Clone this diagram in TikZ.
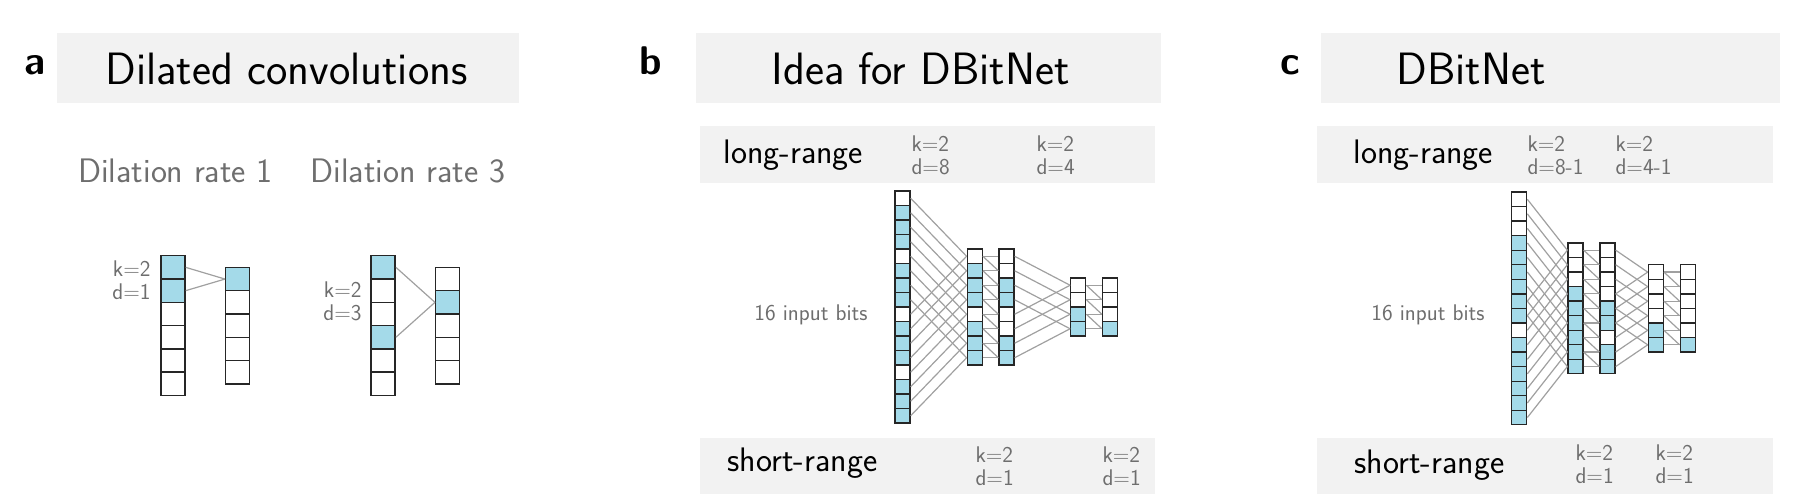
\documentclass[tikz,border=0pt]{standalone}
\usepackage{fontspec}
\renewcommand{\familydefault}{\sfdefault}
\usetikzlibrary{positioning}

\definecolor{bitblue}{RGB}{164,218,233}
\definecolor{panelgray}{RGB}{242,242,242}
\definecolor{notegray}{RGB}{110,110,110}
\definecolor{wiregray}{RGB}{160,160,160}
\colorlet{w}{white}
\colorlet{b}{bitblue}

\tikzset{every picture/.style={line width=0.75pt}}

% one column of bit cells: name, x, top y, cell height, style, fills
\newcommand{\bitcolumn}[6]{%
  \foreach \f [count=\i] in {#6}{%
    \node [#5, fill=\f] (#1-\i) at (#2,{#3+(\i-0.5)*#4}) {};
  }%
}

\begin{document}
\begin{tikzpicture}[x=0.75pt,y=0.75pt,yscale=-1,xscale=1,
  bigcell/.style={draw=black!85, line width=1.1pt, inner sep=0pt, minimum width=18pt, minimum height=17.5pt},
  bitcell/.style={draw=black!85, line width=0.95pt, inner sep=0pt, minimum width=11.25pt, minimum height=10.9pt},
  wire/.style={draw=wiregray, line width=0.9pt},
  panelbox/.style={fill=panelgray},
  paneltag/.style={inner sep=0pt, anchor=base, font=\fontsize{30}{36}\selectfont\bfseries},
  headtxt/.style={inner sep=0pt, anchor=base west, font=\fontsize{34}{40}\selectfont},
  rangetxt/.style={inner sep=0pt, anchor=west, font=\fontsize{25.5}{30}\selectfont},
  ratetxt/.style={inner sep=0pt, anchor=base, text=notegray, font=\fontsize{25.5}{30}\selectfont},
  notetxt/.style={inner sep=0pt, text=notegray, font=\fontsize{17}{17.5}\selectfont},
]
\useasboundingbox (0,0) rectangle (1801,501);

%Shapes: grey panels
\fill [panelbox] (56.5,32.7) rectangle (519,102.7);
\fill [panelbox] (696,32.7) rectangle (1161,102.7);
\fill [panelbox] (1321,32.7) rectangle (1780,102.7);
\fill [panelbox] (700,126) rectangle (1155,182.7);
\fill [panelbox] (700,438) rectangle (1155,494);
\fill [panelbox] (1316.5,126) rectangle (1773,182.7);
\fill [panelbox] (1316.5,438) rectangle (1773,494);

% Text Node
\node [paneltag] (labA) at (35,74) {a};
\node [headtxt] (titleA) at (105,84) {Dilated convolutions};
\node [ratetxt] (rate1) at (175.5,182) {Dilation rate 1};
\node [ratetxt] (rate3) at (407.8,182) {Dilation rate 3};
\node [notetxt, align=right, anchor=east] (kdA1) at (151,280) {k=2\\d=1};
\node [notetxt, align=right, anchor=east] (kdA3) at (362,301) {k=2\\d=3};

% Text Node
\node [paneltag] (labB) at (651,74) {b};
\node [headtxt] (titleB) at (771,84) {Idea for DBitNet};
\node [rangetxt] (longB) at (723,155) {long-range};
\node [notetxt, align=left, anchor=west] (kdB1) at (911,155) {k=2\\d=8};
\node [notetxt, align=left, anchor=west] (kdB2) at (1036,155) {k=2\\d=4};
\node [rangetxt] (shortB) at (727,463) {short-range};
\node [notetxt, align=left, anchor=west] (kdB3) at (975,466) {k=2\\d=1};
\node [notetxt, align=left, anchor=west] (kdB4) at (1102,466) {k=2\\d=1};
\node [notetxt, anchor=east] (inB) at (868,315) {16 input bits};

% Text Node
\node [paneltag] (labC) at (1290.5,74) {c};
\node [headtxt] (titleC) at (1396,84) {DBitNet};
\node [rangetxt] (longC) at (1353,155) {long-range};
\node [notetxt, align=left, anchor=west] (kdC1) at (1527,155) {k=2\\d=8-1};
\node [notetxt, align=left, anchor=west] (kdC2) at (1615,155) {k=2\\d=4-1};
\node [rangetxt] (shortC) at (1354,465) {short-range};
\node [notetxt, align=left, anchor=west] (kdC3) at (1575,464) {k=2\\d=1};
\node [notetxt, align=left, anchor=west] (kdC4) at (1655,464) {k=2\\d=1};
\node [notetxt, anchor=east] (inC) at (1485,315) {16 input bits};

%Columns: panel a
\bitcolumn{a1}{173}{255.7}{23.3}{bigcell}{b,b,w,w,w,w}
\bitcolumn{a2}{237.7}{267.4}{23.3}{bigcell}{b,w,w,w,w}
\bitcolumn{a3}{383.2}{255.7}{23.3}{bigcell}{b,w,w,b,w,w}
\bitcolumn{a4}{447.7}{267.4}{23.3}{bigcell}{w,b,w,w,w}

%Columns: panel b
\bitcolumn{b1}{902.5}{191}{14.5}{bitcell}{w,b,b,b,w,b,b,b,w,b,b,b,w,b,b,b}
\bitcolumn{b2}{974.7}{249}{14.5}{bitcell}{w,b,b,b,w,b,b,b}
\bitcolumn{b3}{1006.5}{249}{14.5}{bitcell}{w,w,b,b,w,w,b,b}
\bitcolumn{b4}{1078.2}{278}{14.5}{bitcell}{w,w,b,b}
\bitcolumn{b5}{1110}{278}{14.5}{bitcell}{w,w,w,b}

%Columns: panel c
\bitcolumn{c1}{1519.2}{192}{14.55}{bitcell}{w,w,w,b,b,b,b,b,b,w,b,b,b,b,b,b}
\bitcolumn{c2}{1575.5}{242.9}{14.55}{bitcell}{w,w,w,b,b,b,b,b,b}
\bitcolumn{c3}{1607.5}{242.9}{14.55}{bitcell}{w,w,w,w,b,b,w,b,b}
\bitcolumn{c4}{1655.8}{264.8}{14.55}{bitcell}{w,w,w,w,b,b}
\bitcolumn{c5}{1687.7}{264.8}{14.55}{bitcell}{w,w,w,w,w,b}

%Straight Lines: panel a
\draw [wire] (a1-1.east) -- (a2-1.west);
\draw [wire] (a1-2.east) -- (a2-1.west);
\draw [wire] (a3-1.east) -- (a4-2.west);
\draw [wire] (a3-4.east) -- (a4-2.west);

%Straight Lines: panel b, d=8 then d=1
\foreach \j in {1,...,16}{
  \pgfmathtruncatemacro{\k}{mod(\j-1,8)+1}
  \draw [wire] (b1-\j.east) -- (b2-\k.west);
}
\foreach \j in {1,...,8}{
  \draw [wire] (b2-\j.east) -- (b3-\j.west);
}
\foreach \j in {1,...,7}{
  \pgfmathtruncatemacro{\k}{\j+1}
  \draw [wire] (b2-\j.east) -- (b3-\k.west);
}
%Straight Lines: panel b, d=4 then d=1
\foreach \j in {1,...,8}{
  \pgfmathtruncatemacro{\k}{mod(\j-1,4)+1}
  \draw [wire] (b3-\j.east) -- (b4-\k.west);
}
\foreach \j in {1,...,4}{
  \draw [wire] (b4-\j.east) -- (b5-\j.west);
}
\foreach \j in {1,...,3}{
  \pgfmathtruncatemacro{\k}{\j+1}
  \draw [wire] (b4-\j.east) -- (b5-\k.west);
}

%Straight Lines: panel c, d=7 then d=1
\foreach \j in {1,...,9}{
  \pgfmathtruncatemacro{\k}{\j+7}
  \draw [wire] (c1-\j.east) -- (c2-\j.west);
  \draw [wire] (c1-\k.east) -- (c2-\j.west);
}
\foreach \j in {1,...,9}{
  \draw [wire] (c2-\j.east) -- (c3-\j.west);
}
\foreach \j in {1,...,8}{
  \pgfmathtruncatemacro{\k}{\j+1}
  \draw [wire] (c2-\j.east) -- (c3-\k.west);
}
%Straight Lines: panel c, d=3 then d=1
\foreach \j in {1,...,6}{
  \pgfmathtruncatemacro{\k}{\j+3}
  \draw [wire] (c3-\j.east) -- (c4-\j.west);
  \draw [wire] (c3-\k.east) -- (c4-\j.west);
}
\foreach \j in {1,...,6}{
  \draw [wire] (c4-\j.east) -- (c5-\j.west);
}
\foreach \j in {1,...,5}{
  \pgfmathtruncatemacro{\k}{\j+1}
  \draw [wire] (c4-\j.east) -- (c5-\k.west);
}
\end{tikzpicture}
\end{document}
